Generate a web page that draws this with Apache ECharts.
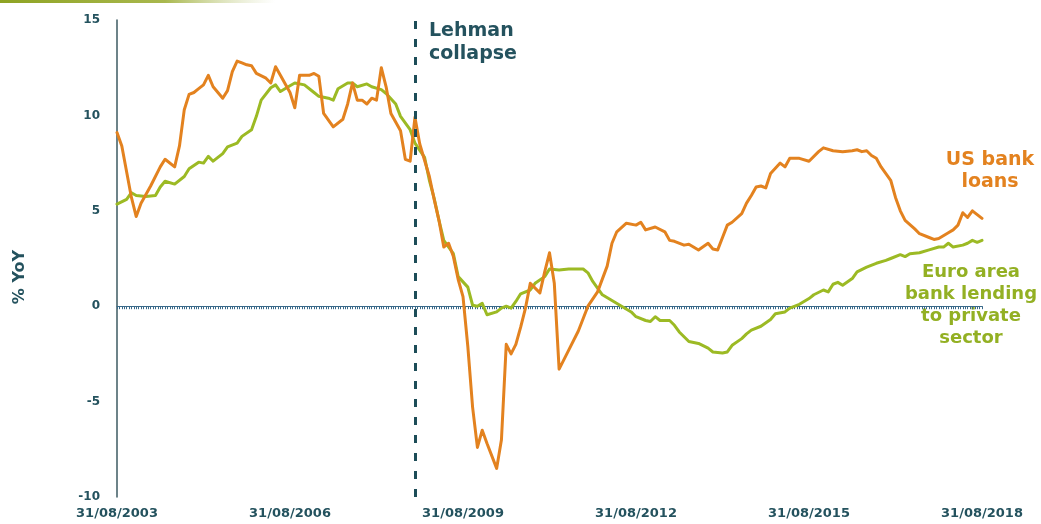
<!DOCTYPE html>
<html>
<head>
<meta charset="utf-8">
<title>Bank lending growth: US vs euro area</title>
<script src="https://cdn.jsdelivr.net/npm/echarts@6/dist/echarts.min.js"></script>
<style>
  html, body { margin: 0; padding: 0; background: #ffffff; }
  #chart { width: 1041px; height: 524px; }
</style>
</head>
<body>
<div id="chart"></div>
<script>
// x values are months elapsed since 31/08/2003 (month-end observations)
const xTickLabels = ['31/08/2003', '31/08/2006', '31/08/2009', '31/08/2012', '31/08/2015', '31/08/2018'];
const yTickValues = [-10, -5, 0, 5, 10, 15];
const lehmanMonth = 62;

// US commercial bank loans, % YoY
const usBankLoans = [
  [0, 9.1], [1, 8.4], [3, 5.7], [4, 4.7], [5, 5.4], [7, 6.3], [9, 7.3], [10, 7.7], [12, 7.3],
  [13, 8.4], [14, 10.3], [15, 11.1], [16, 11.2], [17, 11.4], [18, 11.6], [19, 12.1], [20, 11.5],
  [22, 10.9], [23, 11.3], [24, 12.3], [25, 12.85], [26, 12.75], [27, 12.65], [28, 12.6], [29, 12.2],
  [31, 11.95], [32, 11.7], [33, 12.55], [34, 12.1], [36, 11.2], [37, 10.4], [38, 12.1], [40, 12.1],
  [41, 12.2], [42, 12.05], [43, 10.1], [45, 9.4], [47, 9.8], [48, 10.6], [49, 11.7], [50, 10.8],
  [51, 10.8], [52, 10.6], [53, 10.9], [54, 10.8], [55, 12.5], [56, 11.5], [57, 10.1], [59, 9.2],
  [60, 7.7], [61, 7.6], [62, 9.9], [63, 8.5], [65, 6.8], [66, 5.6], [67, 4.5], [68, 3.1], [69, 3.3],
  [70, 2.6], [71, 1.4], [72, 0.5], [73, -2.1], [74, -5.3], [75, -7.4], [76, -6.5], [77, -7.2],
  [79, -8.5], [80, -7.0], [81, -2.0], [82, -2.5], [83, -2.0], [84, -1.1], [85, -0.1], [86, 1.2],
  [88, 0.7], [89, 1.8], [90, 2.8], [91, 1.2], [92, -3.3], [94, -2.3], [96, -1.3], [98, 0.0],
  [100, 0.75], [102, 2.1], [103, 3.3], [104, 3.9], [106, 4.35], [108, 4.25], [109, 4.4], [110, 4.0],
  [112, 4.15], [114, 3.9], [115, 3.45], [116, 3.4], [118, 3.2], [119, 3.25], [121, 2.95], [123, 3.3],
  [124, 3.0], [125, 2.95], [126, 3.6], [127, 4.25], [128, 4.4], [130, 4.85], [131, 5.4], [132, 5.8],
  [133, 6.25], [134, 6.3], [135, 6.2], [136, 6.95], [138, 7.5], [139, 7.3], [140, 7.75], [142, 7.75],
  [144, 7.6], [146, 8.1], [147, 8.3], [149, 8.15], [151, 8.1], [153, 8.15], [154, 8.2], [155, 8.1],
  [156, 8.15], [157, 7.9], [158, 7.75], [159, 7.3], [161, 6.6], [162, 5.7], [163, 5.0], [164, 4.5],
  [166, 4.05], [167, 3.8], [169, 3.6], [170, 3.5], [171, 3.55], [173, 3.85], [174, 4.0], [175, 4.25],
  [176, 4.9], [177, 4.65], [178, 5.0], [179, 4.8], [180, 4.6]
];

// Euro area bank lending to the private sector, % YoY
const euroAreaLending = [
  [0, 5.35], [2, 5.6], [3, 5.95], [4, 5.8], [6, 5.75], [8, 5.8], [9, 6.25], [10, 6.55], [12, 6.4],
  [14, 6.8], [15, 7.2], [17, 7.55], [18, 7.5], [19, 7.85], [20, 7.6], [22, 8.0], [23, 8.35],
  [25, 8.55], [26, 8.9], [28, 9.25], [29, 9.95], [30, 10.8], [32, 11.45], [33, 11.6], [34, 11.25],
  [36, 11.55], [37, 11.7], [39, 11.6], [41, 11.2], [42, 11.0], [44, 10.9], [45, 10.8], [46, 11.4],
  [48, 11.7], [49, 11.7], [50, 11.5], [52, 11.65], [53, 11.5], [55, 11.35], [56, 11.15], [58, 10.6],
  [59, 9.95], [61, 9.25], [62, 8.55], [64, 7.8], [65, 6.6], [66, 5.65], [67, 4.5], [68, 3.45],
  [70, 2.75], [71, 1.55], [73, 1.0], [74, 0.05], [75, 0.0], [76, 0.15], [77, -0.45], [79, -0.3],
  [80, -0.1], [81, 0.0], [82, -0.1], [83, 0.25], [84, 0.65], [86, 0.85], [87, 1.2], [89, 1.55],
  [90, 1.95], [92, 1.9], [94, 1.95], [97, 1.95], [98, 1.75], [99, 1.3], [100, 0.95], [101, 0.6],
  [103, 0.3], [105, 0.0], [107, -0.3], [108, -0.55], [110, -0.75], [111, -0.8], [112, -0.55],
  [113, -0.75], [115, -0.75], [116, -1.0], [117, -1.35], [119, -1.85], [121, -1.95], [123, -2.2],
  [124, -2.4], [126, -2.45], [127, -2.4], [128, -2.05], [130, -1.7], [131, -1.45], [132, -1.25],
  [134, -1.05], [136, -0.7], [137, -0.4], [139, -0.3], [140, -0.1], [142, 0.1], [144, 0.4],
  [145, 0.6], [147, 0.85], [148, 0.75], [149, 1.15], [150, 1.25], [151, 1.1], [153, 1.45],
  [154, 1.8], [156, 2.05], [158, 2.25], [160, 2.4], [161, 2.5], [163, 2.7], [164, 2.6], [165, 2.75],
  [167, 2.8], [169, 2.95], [171, 3.1], [172, 3.1], [173, 3.3], [174, 3.1], [176, 3.2], [177, 3.3],
  [178, 3.45], [179, 3.35], [180, 3.45]
];

const TEXT = '#24525e';
const ORANGE = '#e3821f';
const GREEN = '#9cba24';
const FONT = '"DejaVu Sans", Verdana, sans-serif';

const xMax = (xTickLabels.length - 1) * 36;

const chart = echarts.init(document.getElementById('chart'), null, { renderer: 'canvas' });

chart.setOption({
  animation: false,
  backgroundColor: '#ffffff',
  grid: { left: 117, right: 59, top: 20, bottom: 27, containLabel: false },
  xAxis: [
    {
      type: 'value',
      min: 0,
      max: xMax,
      interval: 36,
      axisLine: { show: false, onZero: false },
      axisTick: { show: false },
      splitLine: { show: false },
      axisLabel: {
        margin: 10,
        color: TEXT,
        fontFamily: FONT,
        fontWeight: 'bold',
        fontSize: 13,
        showMinLabel: true,
        showMaxLabel: true,
        formatter: v => xTickLabels[Math.round(v / 36)] || ''
      }
    },
    {
      // zero line with fine tick marks
      type: 'value',
      position: 'bottom',
      min: 0,
      max: xMax,
      interval: 0.5,
      axisLine: { show: true, onZero: true, lineStyle: { color: '#3a6a8a', width: 1 } },
      axisTick: { show: true, length: 3, inside: false, lineStyle: { color: '#3a6a8a', width: 1 } },
      axisLabel: { show: false },
      splitLine: { show: false }
    }
  ],
  yAxis: {
    type: 'value',
    min: yTickValues[0],
    max: yTickValues[yTickValues.length - 1],
    interval: 5,
    axisLine: { show: true, onZero: false, lineStyle: { color: '#3c5a62', width: 1.5 } },
    axisTick: { show: false },
    splitLine: { show: false },
    axisLabel: {
      margin: 17,
      color: TEXT,
      fontFamily: FONT,
      fontWeight: 'bold',
      fontSize: 12
    }
  },
  series: [
    {
      name: 'Euro area bank lending to private sector',
      type: 'line',
      xAxisIndex: 0,
      data: euroAreaLending,
      showSymbol: false,
      symbol: 'none',
      lineStyle: { color: GREEN, width: 3, cap: 'round', join: 'round' },
      z: 3
    },
    {
      name: 'US bank loans',
      type: 'line',
      xAxisIndex: 0,
      data: usBankLoans,
      showSymbol: false,
      symbol: 'none',
      lineStyle: { color: ORANGE, width: 3, cap: 'round', join: 'round' },
      z: 4,
      markLine: {
        silent: true,
        symbol: 'none',
        label: { show: false },
        lineStyle: { color: '#1d4d58', width: 3, type: [8, 10] },
        data: [{ xAxis: lehmanMonth }],
        z: 5
      }
    }
  ],
  graphic: [
    {
      type: 'rect',
      shape: { x: 0, y: 0, width: 275, height: 3 },
      style: {
        fill: {
          type: 'linear', x: 0, y: 0, x2: 1, y2: 0,
          colorStops: [
            { offset: 0, color: '#8ea323' },
            { offset: 0.6, color: '#a9b84e' },
            { offset: 1, color: 'rgba(200,210,150,0)' }
          ]
        }
      }
    },
    {
      type: 'text',
      x: 20, y: 277,
      rotation: Math.PI / 2,
      style: {
        text: '% YoY',
        fill: TEXT,
        font: 'bold 16px ' + FONT,
        align: 'center',
        verticalAlign: 'middle'
      }
    },
    {
      type: 'text',
      x: 429, y: 43,
      style: {
        text: 'Lehman\ncollapse',
        fill: TEXT,
        font: 'bold 19px ' + FONT,
        lineHeight: 23,
        align: 'left',
        verticalAlign: 'middle'
      }
    },
    {
      type: 'text',
      x: 990, y: 171,
      style: {
        text: 'US bank\nloans',
        fill: ORANGE,
        font: 'bold 19px ' + FONT,
        lineHeight: 22,
        align: 'center',
        verticalAlign: 'middle'
      }
    },
    {
      type: 'text',
      x: 971, y: 305,
      style: {
        text: 'Euro area\nbank lending\nto private\nsector',
        fill: '#93b023',
        font: 'bold 18px ' + FONT,
        lineHeight: 22,
        align: 'center',
        verticalAlign: 'middle'
      }
    }
  ]
});
</script>
</body>
</html>
